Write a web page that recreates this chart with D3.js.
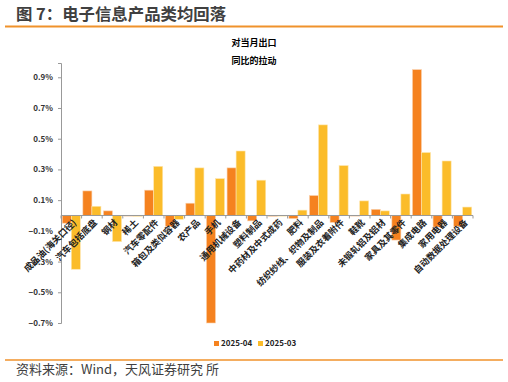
<!DOCTYPE html>
<html>
<head>
<meta charset="utf-8">
<script src="https://cdn.jsdelivr.net/npm/d3@7"></script>
<style>
  body { margin: 0; background: #fff; }
  svg text { font-family: "Noto Sans CJK SC", "Noto Sans", sans-serif; }
</style>
</head>
<body>
<div id="chart-area"></div>
<script>
// Data -------------------------------------------------
const categories = ["成品油(海关口径)", "汽车包括底盘", "钢材", "稀土", "汽车零配件",
  "箱包及类似容器", "农产品", "手机", "通用机械设备", "塑料制品",
  "中药材及中式成药", "肥料", "纺织纱线、织物及制品", "服装及衣着附件", "鞋靴",
  "未锻轧铝及铝材", "家具及其零件", "集成电路", "家用电器", "自动数据处理设备"]
const apr = [-0.05, 0.16, 0.03, 0.0, 0.165, -0.07, 0.08, -0.70, 0.31, -0.035,
  -0.005, -0.02, 0.13, -0.045, 0.0, 0.04, -0.16, 0.95, -0.075, -0.07]
const mar = [-0.35, 0.06, -0.17, -0.005, 0.32, -0.025, 0.31, 0.24, 0.42, 0.23,
  -0.004, 0.035, 0.59, 0.325, 0.095, 0.03, 0.14, 0.41, 0.355, 0.055]
const seriesNames = ["2025-04", "2025-03"]
const yTicks = [-0.7, -0.5, -0.3, -0.1, 0.1, 0.3, 0.5, 0.7, 0.9]

const colors = ["#F5821F", "#FBBC2A"]

// Canvas setup -----------------------------------------
const WIDTH = 508, HEIGHT = 382
const PLOT = {LEFT: 61, RIGHT: 473, TOP: 63, BOTTOM: 323}

const svg = d3.select("#chart-area").append("svg")
  .attr("width", WIDTH)
  .attr("height", HEIGHT)

// header / footer
svg.append("text")
  .attr("x", 16).attr("y", 20)
  .attr("font-size", "16.4px")
  .attr("font-weight", "bold")
  .attr("fill", "#404040")
  .text("图 7：电子信息产品类均回落")

svg.append("line")
  .attr("x1", 5).attr("x2", 503).attr("y1", 26.5).attr("y2", 26.5)
  .attr("stroke", "#F0922B").attr("stroke-width", 2)

svg.append("line")
  .attr("x1", 5).attr("x2", 503).attr("y1", 360).attr("y2", 360)
  .attr("stroke", "#F0922B").attr("stroke-width", 1.5)

svg.append("text")
  .attr("x", 16).attr("y", 374)
  .attr("font-size", "13px")
  .attr("fill", "#404040")
  .text("资料来源：Wind，天风证券研究 所")

// chart title
const titleLines = ["对当月出口", "同比的拉动"]
svg.selectAll(".ctitle").data(titleLines).enter().append("text")
  .attr("class", "ctitle")
  .attr("x", 254)
  .attr("y", (d, i) => 46 + i * 18)
  .attr("text-anchor", "middle")
  .attr("font-size", "9px")
  .attr("font-weight", "bold")
  .attr("fill", "#000")
  .text(d => d)

// Scales -----------------------------------------------
const xScale = d3.scaleBand()
  .domain(categories)
  .range([PLOT.LEFT, PLOT.RIGHT])
  .paddingInner(0)
  .paddingOuter(0)

const xInner = d3.scaleBand()
  .domain(seriesNames)
  .range([0, xScale.bandwidth()])
  .paddingInner(0)
  .paddingOuter(0.14)

const yScale = d3.scaleLinear()
  .domain([-0.7, 0.993])
  .range([PLOT.BOTTOM, PLOT.TOP])

// Y axis
const yAxis = d3.axisLeft(yScale)
  .tickValues(yTicks)
  .tickSize(3)
  .tickFormat(d => d3.format(".1f")(d) + "%")

const gy = svg.append("g")
  .attr("transform", `translate(${PLOT.LEFT},0)`)
  .call(yAxis)
gy.select(".domain").attr("stroke", "#999")
gy.selectAll(".tick line").attr("stroke", "#999")
gy.selectAll(".tick text")
  .attr("x", -8)
  .attr("font-size", "8px")
  .attr("font-weight", "bold")
  .attr("font-family", "Liberation Sans, Arial, sans-serif")
  .attr("fill", "#333")

// Bars
const series = [apr, mar]
series.forEach((vals, s) => {
  svg.append("g").selectAll("rect")
    .data(vals)
    .enter().append("rect")
    .attr("x", (d, i) => xScale(categories[i]) + xInner(seriesNames[s]))
    .attr("width", xInner.bandwidth())
    .attr("y", d => yScale(Math.max(0, d)))
    .attr("height", d => Math.max(0.6, Math.abs(yScale(d) - yScale(0))))
    .attr("fill", colors[s])
    .attr("stroke", s === 0 ? "#FAD2B0" : "#FDE6B0")
    .attr("stroke-width", 0.6)
})

// X axis at zero
const y0 = yScale(0)
svg.append("line")
  .attr("x1", PLOT.LEFT).attr("x2", PLOT.RIGHT)
  .attr("y1", y0).attr("y2", y0)
  .attr("stroke", "#999").attr("stroke-width", 1)

const bounds = categories.map(c => xScale(c)).concat([PLOT.RIGHT])
svg.append("g").selectAll("line")
  .data(bounds)
  .enter().append("line")
  .attr("x1", d => d).attr("x2", d => d)
  .attr("y1", y0).attr("y2", y0 + 3)
  .attr("stroke", "#999")

// Category labels (rotated)
svg.append("g").selectAll("text")
  .data(categories)
  .enter().append("text")
  .attr("transform", d => `translate(${xScale(d) + xScale.bandwidth() / 2 + 4},${y0 + 6}) rotate(-45)`)
  .attr("text-anchor", "end")
  .attr("dominant-baseline", "middle")
  .attr("font-size", "9px")
  .attr("font-weight", "bold")
  .attr("fill", "#222")
  .text(d => d)

// Legend
const legend = svg.append("g").attr("transform", "translate(214,344)")
seriesNames.forEach((name, i) => {
  const gl = legend.append("g").attr("transform", `translate(${i * 44},0)`)
  gl.append("rect")
    .attr("x", 0).attr("y", -3).attr("width", 5).attr("height", 5)
    .attr("fill", colors[i])
  gl.append("text")
    .attr("x", 7).attr("y", 0)
    .attr("dominant-baseline", "middle")
    .attr("font-size", "8px")
    .attr("font-weight", "bold")
    .attr("font-family", "Liberation Sans, Arial, sans-serif")
    .attr("fill", "#222")
    .text(name)
})
</script>
</body>
</html>
